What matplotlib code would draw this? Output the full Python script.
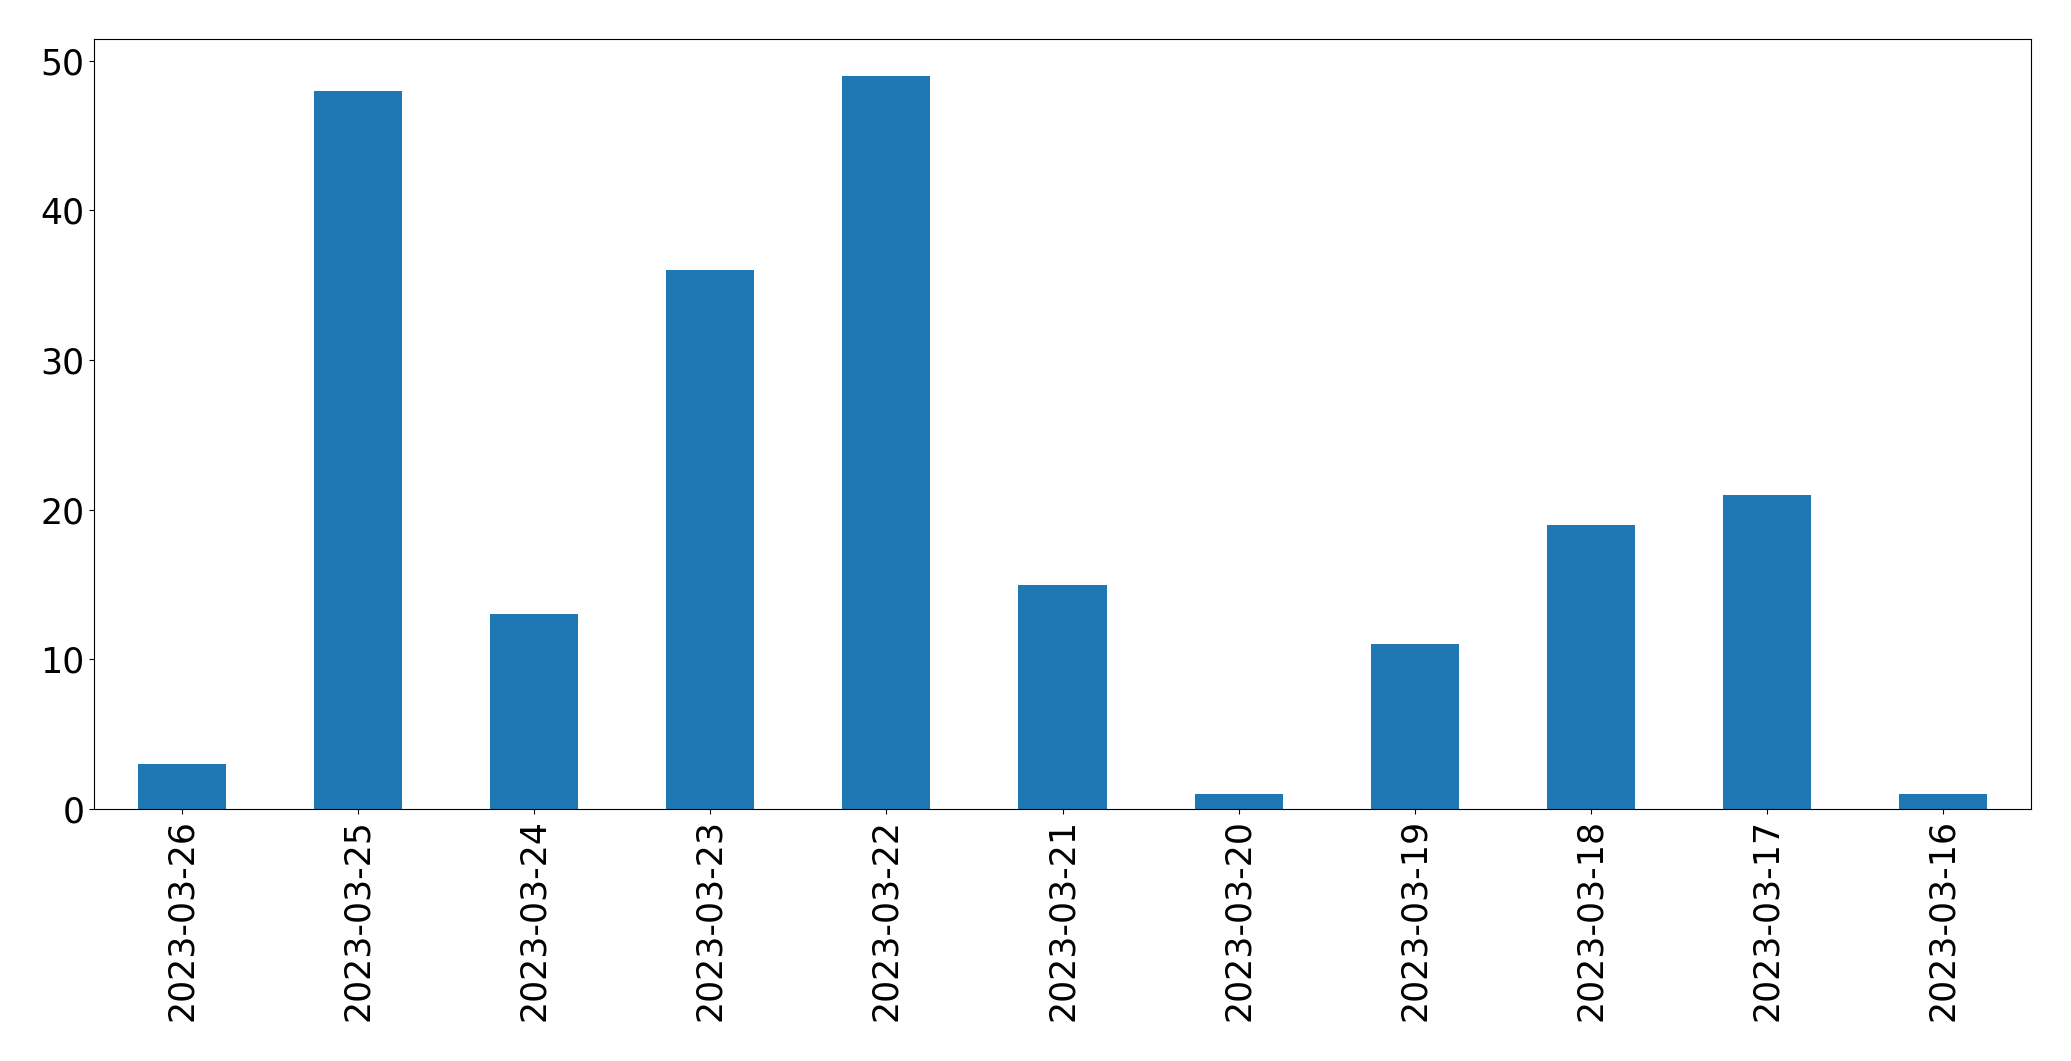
import matplotlib
matplotlib.use('Agg')
from matplotlib import pyplot as plt
import pandas as pd

# daily counts, newest first
dates = ['2023-03-26', '2023-03-25', '2023-03-24', '2023-03-23', '2023-03-22',
         '2023-03-21', '2023-03-20', '2023-03-19', '2023-03-18', '2023-03-17',
         '2023-03-16']
counts = [3, 48, 13, 36, 49, 15, 1, 11, 19, 21, 1]

s = pd.Series(counts, index=dates)

fig = plt.figure(figsize=(20.71, 10.61), dpi=100)
ax = fig.add_axes([94 / 2071, 1 - 809 / 1061, (2031 - 94) / 2071, (809 - 39) / 1061])
s.plot(kind='bar', ax=ax, fontsize=25, color='#1f77b4')

fig.savefig('out.png', dpi=100)
